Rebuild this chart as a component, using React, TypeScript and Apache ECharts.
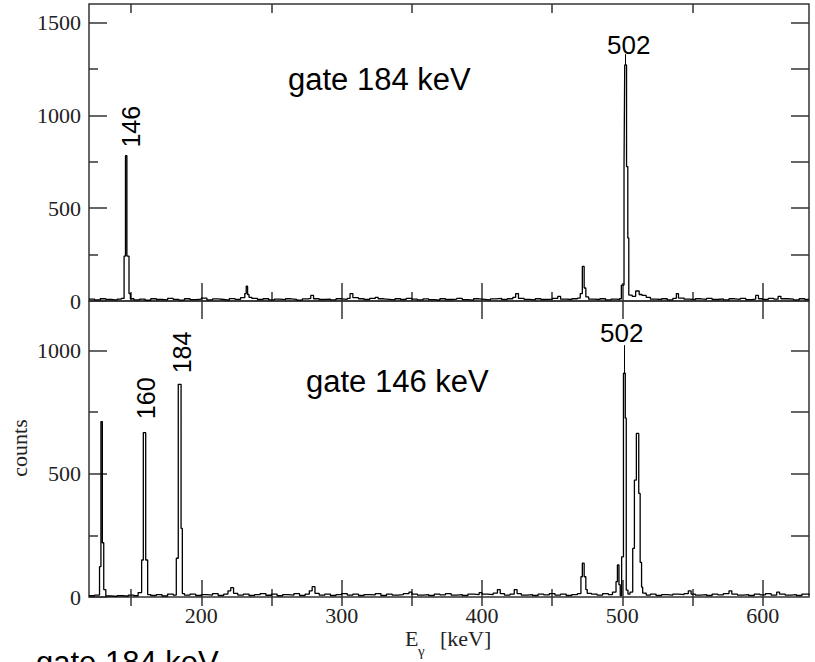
import React, { useEffect, useRef } from "react";
import * as echarts from "echarts";

// Gamma spectrum gated on 184 keV (top panel): [energy keV, counts]
const topSpectrum: [number, number][] = [
  [120, 10], [124, 6], [128, 12], [132, 8], [136, 5], [140, 10], [143, 14],
  [145, 242], [146, 783], [147, 242], [148.5, 40], [149.5, 12],
  [152, 6], [156, 10], [160, 4], [164, 12], [168, 8], [172, 6], [176, 14], [180, 9],
  [184, 5], [188, 12], [192, 7], [196, 10], [200, 16], [204, 6], [208, 11], [212, 8],
  [216, 5], [220, 13], [224, 9], [228, 18], [231, 40], [232, 80], [233, 35], [234, 20],
  [236, 14], [240, 8], [244, 12], [248, 6], [252, 10], [256, 7], [260, 12], [264, 9],
  [268, 5], [272, 11], [276, 14], [278, 30], [280, 12], [284, 8], [288, 10], [292, 6],
  [296, 12], [300, 9], [304, 14], [306, 40], [308, 18], [312, 12], [316, 8], [320, 14],
  [324, 20], [326, 12], [330, 9], [334, 6], [338, 12], [342, 8], [346, 14], [350, 10],
  [354, 6], [358, 11], [362, 7], [366, 4], [370, 12], [374, 8], [378, 10], [382, 14],
  [386, 7], [390, 5], [394, 12], [398, 9], [402, 6], [406, 11], [410, 14], [414, 8],
  [418, 12], [422, 20], [424, 40], [426, 14], [430, 9], [434, 6], [438, 12], [442, 8],
  [446, 10], [450, 14], [454, 25], [456, 10], [460, 8], [464, 12], [468, 16], [470, 40],
  [471.5, 186], [472.8, 70], [474, 22], [476, 10], [480, 8], [484, 12], [488, 6],
  [492, 10], [496, 8], [498, 12], [499.3, 86], [501.2, 722], [501.7, 1272], [503, 724],
  [503.9, 340], [504.6, 32], [507, 25], [509.5, 54], [512, 35], [514, 30], [517, 20],
  [520, 10], [524, 8], [528, 12], [532, 6], [536, 14], [538.5, 40], [540, 16], [544, 10],
  [548, 7], [552, 12], [556, 9], [560, 14], [564, 8], [568, 11], [572, 6], [576, 12],
  [580, 9], [584, 14], [588, 7], [592, 10], [595, 30], [597, 12], [600, 8], [604, 14],
  [608, 10], [611, 25], [613, 12], [618, 10], [622, 6], [626, 12], [630, 8], [633, 8],
];

// Gamma spectrum gated on 146 keV (bottom panel): [energy keV, counts]
const bottomSpectrum: [number, number][] = [
  [120, 5], [124, 8], [127.5, 123], [128.5, 711], [129.5, 220], [130.5, 30], [132, 4],
  [136, 2], [140, 5], [144, 3], [148, 8], [152, 5], [155, 18], [157.5, 150], [158.7, 666],
  [160.4, 150], [161.8, 10], [164, 6], [168, 10], [172, 4], [176, 12], [180, 8],
  [182.2, 157], [183.6, 862], [185.6, 278], [186.5, 14], [188, 8], [192, 12], [196, 6],
  [200, 10], [204, 8], [208, 14], [212, 6], [216, 12], [219, 25], [221, 38], [223, 15],
  [226, 8], [230, 12], [234, 6], [238, 10], [242, 14], [246, 7], [250, 12], [254, 5],
  [258, 10], [262, 8], [266, 14], [270, 6], [274, 12], [277, 25], [279, 42], [281, 15],
  [284, 8], [288, 12], [292, 6], [296, 10], [300, 14], [304, 8], [308, 12], [312, 6],
  [316, 10], [320, 9], [324, 14], [328, 6], [332, 12], [336, 8], [340, 10], [344, 14],
  [348, 20], [350, 12], [354, 8], [358, 10], [362, 6], [366, 12], [370, 9], [374, 14],
  [378, 8], [382, 10], [386, 6], [390, 12], [394, 10], [398, 18], [400, 12], [404, 10],
  [408, 16], [411, 30], [413, 14], [416, 8], [420, 12], [423, 30], [425, 14], [428, 8],
  [432, 10], [436, 6], [440, 12], [444, 9], [448, 14], [452, 8], [456, 12], [460, 6],
  [464, 10], [468, 14], [470.5, 82], [471.5, 137], [472.8, 82], [474, 30], [475, 15],
  [478, 12], [482, 8], [486, 14], [490, 10], [493, 20], [495.5, 62], [496.5, 130],
  [497.6, 50], [498.5, 6], [499.5, 163], [500.8, 907], [502.1, 725], [502.8, 28],
  [504, 12], [505.5, 20], [507.4, 197], [508.6, 474], [510, 663], [511.7, 420],
  [512.7, 140], [513.7, 40], [514.5, 16], [517, 8], [520, 12], [524, 6], [528, 10],
  [532, 8], [536, 12], [540, 10], [544, 14], [547, 25], [549, 12], [552, 8], [556, 10],
  [560, 6], [564, 12], [568, 9], [572, 14], [576, 25], [578, 12], [582, 8], [586, 10],
  [590, 6], [594, 12], [598, 9], [602, 14], [606, 8], [610, 20], [612, 12], [616, 8],
  [620, 10], [624, 6], [628, 12], [633, 8],
];

const X_MIN = 120;
const X_MAX = 633;
const xMajorTicks = [200, 300, 400, 500, 600];
const xMinorTicks = [150, 250, 350, 450, 550];
const xAllTicks = [150, 200, 250, 300, 350, 400, 450, 500, 550, 600];

const TOP_MAX = 1600;
const topYLabels = [0, 500, 1000, 1500];
const topYMinor = [250, 750, 1250];
const topYRight = [250, 500, 750, 1000, 1250, 1500];

const BOTTOM_MAX = 1200;
const bottomYLabels = [0, 500, 1000];
const bottomYMinor = [250, 750];
const bottomYRight = [250, 500, 750, 1000];

// peak leader lines: [energy, from counts, to counts]
const topLeader: [number, number, number] = [501.8, 1272, 1330];
const bottomLeader: [number, number, number] = [501.5, 907, 1021];

const AX = "#333";
const SERIF = "'Liberation Serif', 'Times New Roman', serif";
const SANS = "'Liberation Sans', Arial, sans-serif";
const plain = (v: number) => String(v);

function xAxis(gridIndex: number, position: string, ticks: number[], len: number, labels?: number[]) {
  return {
    type: "value",
    gridIndex,
    position,
    min: X_MIN,
    max: X_MAX,
    axisLine: { show: false },
    splitLine: { show: false },
    axisTick: { show: true, inside: true, length: len, customValues: ticks, lineStyle: { color: AX, width: 1.5 } },
    axisLabel: labels
      ? { show: true, customValues: labels, formatter: plain, fontFamily: SERIF, fontSize: 22, color: "#222", margin: 7 }
      : { show: false },
  };
}

function yAxis(gridIndex: number, position: string, max: number, ticks: number[], len: number, labels?: number[]) {
  return {
    type: "value",
    gridIndex,
    position,
    min: 0,
    max,
    axisLine: { show: false },
    splitLine: { show: false },
    axisTick: { show: true, inside: true, length: len, customValues: ticks, lineStyle: { color: AX, width: 1.5 } },
    axisLabel: labels
      ? { show: true, customValues: labels, formatter: plain, fontFamily: SERIF, fontSize: 22, color: "#222", margin: 8 }
      : { show: false },
  };
}

function leader(l: [number, number, number]) {
  return {
    silent: true,
    symbol: ["none", "none"],
    label: { show: false },
    lineStyle: { color: "#000", width: 1, type: "solid" },
    data: [[{ coord: [l[0], l[1]] }, { coord: [l[0], l[2]] }]],
  };
}

export default function App() {
  const ref = useRef<HTMLDivElement>(null);
  useEffect(() => {
    if (!ref.current) return;
    const chart = echarts.init(ref.current, undefined, { renderer: "svg" });
    const txt = (text: string, x: number, y: number, size: number, family: string, opts: any = {}) => ({
      type: "text",
      x,
      y,
      rotation: opts.rotation || 0,
      style: {
        text,
        fontSize: size,
        fontFamily: family,
        fill: opts.fill || "#000",
        align: opts.align || "center",
        verticalAlign: "middle",
      },
    });
    chart.setOption({
      animation: false,
      backgroundColor: "#fff",
      grid: [
        { left: 89, top: 4, width: 720, height: 297, show: true, borderColor: AX, borderWidth: 1.5, backgroundColor: "transparent" },
        { left: 89, top: 301, width: 720, height: 296, show: true, borderColor: AX, borderWidth: 1.5, backgroundColor: "transparent" },
      ],
      xAxis: [
        xAxis(0, "bottom", xMajorTicks, 18),
        xAxis(0, "bottom", xMinorTicks, 9),
        xAxis(0, "top", xMajorTicks, 18),
        xAxis(0, "top", xMinorTicks, 9),
        xAxis(1, "bottom", xMajorTicks, 17, xMajorTicks),
        xAxis(1, "bottom", xMinorTicks, 8),
        xAxis(1, "top", xAllTicks, 9),
      ],
      yAxis: [
        yAxis(0, "left", TOP_MAX, topYLabels, 18, topYLabels),
        yAxis(0, "left", TOP_MAX, topYMinor, 9),
        yAxis(0, "right", TOP_MAX, topYRight, 18),
        yAxis(1, "left", BOTTOM_MAX, bottomYLabels, 18, bottomYLabels),
        yAxis(1, "left", BOTTOM_MAX, bottomYMinor, 9),
        yAxis(1, "right", BOTTOM_MAX, bottomYRight, 18),
      ],
      series: [
        {
          type: "line",
          xAxisIndex: 0,
          yAxisIndex: 0,
          step: "end",
          symbol: "none",
          data: topSpectrum,
          lineStyle: { color: "#000", width: 1.3 },
          markLine: leader(topLeader),
        },
        {
          type: "line",
          xAxisIndex: 4,
          yAxisIndex: 3,
          step: "end",
          symbol: "none",
          data: bottomSpectrum,
          lineStyle: { color: "#000", width: 1.3 },
          markLine: leader(bottomLeader),
        },
      ],
      graphic: [
        txt("gate 184 keV", 288, 79, 31, SANS, { align: "left" }),
        txt("gate 146 keV", 306, 381, 31, SANS, { align: "left" }),
        txt("502", 628.7, 44.5, 26, SANS),
        txt("502", 621.7, 332.5, 26, SANS),
        txt("146", 130.8, 126.7, 25, SANS, { rotation: Math.PI / 2 }),
        txt("160", 145.8, 398.3, 25, SANS, { rotation: Math.PI / 2 }),
        txt("184", 181.7, 352.5, 25, SANS, { rotation: Math.PI / 2 }),
        txt("counts", 19, 448, 22, SERIF, { rotation: Math.PI / 2, fill: "#222" }),
        txt("E", 405, 638, 22, SERIF, { align: "left", fill: "#222" }),
        txt("γ", 418, 651, 15, SERIF, { align: "left", fill: "#222" }),
        txt("[keV]", 440, 638, 22, SERIF, { align: "left", fill: "#222" }),
        txt("gate 184 keV", 36, 662, 31, SANS, { align: "left" }),
      ],
    });
    return () => chart.dispose();
  }, []);
  return <div ref={ref} style={{ position: "absolute", left: 0, top: 0, width: 815, height: 662 }} />;
}
